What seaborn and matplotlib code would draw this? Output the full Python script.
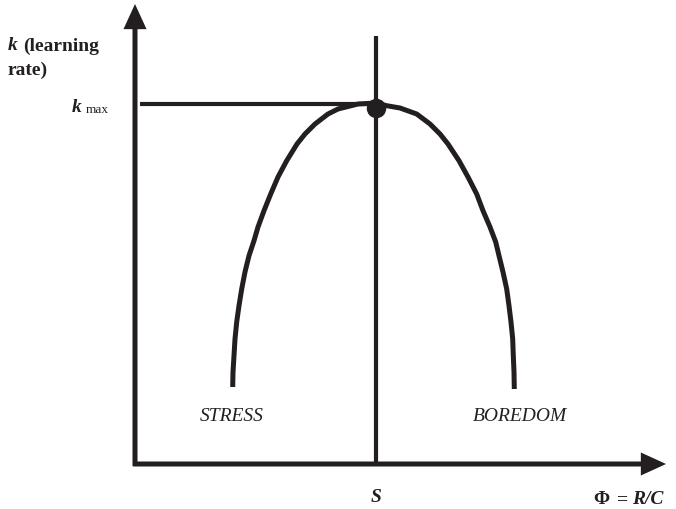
import numpy as np
import pandas as pd
import matplotlib
matplotlib.use("Agg")
import matplotlib.pyplot as plt
import seaborn as sns

# --- data (schematic) ---
phi_curve = [0.977, 0.98, 0.99, 1.00, 1.017, 1.04, 1.067, 1.10, 1.14, 1.19, 1.23, 1.29, 1.357,
             1.43, 1.517, 1.62, 1.70, 1.80, 1.93, 2.03, 2.23, 2.41,
             2.517, 2.65, 2.817, 2.95, 3.05, 3.13, 3.24, 3.33, 3.417, 3.48, 3.55, 3.607,
             3.64, 3.68, 3.717, 3.74, 3.76, 3.777, 3.783, 3.79, 3.793]
k_curve = [0.77, 0.92, 1.083, 1.25, 1.42, 1.583, 1.75, 1.92, 2.083, 2.233, 2.37, 2.533, 2.70,
           2.87, 3.033, 3.20, 3.30, 3.40, 3.50, 3.55, 3.60, 3.61,
           3.583, 3.56, 3.50, 3.40, 3.30, 3.20, 3.033, 2.87, 2.70, 2.533, 2.37, 2.22,
           2.083, 1.92, 1.75, 1.583, 1.42, 1.25, 1.083, 0.92, 0.75]
S_value = 2.41
k_max = 3.605
labels_regions = ["STRESS", "BOREDOM"]
region_x = [0.97, 3.85]
region_y = 0.44

df = pd.DataFrame({"phi": phi_curve, "k": k_curve})

sns.set_theme(style="white")
plt.rcParams["font.family"] = ["Liberation Serif", "DejaVu Serif"]

INK = "#231f20"

fig = plt.figure(figsize=(6.76, 5.10), dpi=100)
ax = fig.add_axes([0, 0, 1, 1])
ax.set_xlim(-1.35, 5.41)
ax.set_ylim(-0.45, 4.65)
ax.axis("off")

# axes arrows
arrow_kw = dict(arrowstyle="-|>,head_length=12,head_width=5.5", lw=3.6, color=INK,
                shrinkA=0, shrinkB=0, mutation_scale=1, joinstyle="miter", capstyle="butt")
ax.annotate("", xy=(0, 4.60), xytext=(0, -0.02), arrowprops=arrow_kw)
ax.annotate("", xy=(5.31, 0), xytext=(-0.02, 0), arrowprops=arrow_kw)

# S vertical line and kmax horizontal line
ax.plot([S_value, S_value], [0, 4.28], color=INK, lw=3.0, solid_capstyle="butt")
ax.plot([0.05, S_value], [k_max, k_max], color=INK, lw=3.0, solid_capstyle="butt")

# curve
sns.lineplot(data=df, x="phi", y="k", sort=False, ax=ax, color=INK, lw=3.6, estimator=None,
             solid_joinstyle="round", solid_capstyle="butt")
ax.plot([S_value], [3.565], "o", color=INK, markersize=13)

# texts
fs = 14
ax.text(-1.27, 4.19, "k", fontsize=fs, fontweight="bold", style="italic", va="center", ha="left", color=INK)
ax.text(-1.12, 4.19, "(learning", fontsize=fs, fontweight="bold", va="center", ha="left", color=INK)
ax.text(-1.27, 3.95, "rate)", fontsize=fs, fontweight="bold", va="center", ha="left", color=INK)

ax.text(-0.63, 3.53, "k", fontsize=fs, fontweight="bold", style="italic", va="baseline", ha="left", color=INK)
ax.text(-0.495, 3.52, "max", fontsize=9.5, va="baseline", ha="left", color=INK)

ax.text(S_value, -0.37, "S", fontsize=fs, fontweight="bold", style="italic", va="baseline", ha="center", color=INK)

ax.text(4.58, -0.39, "\u03a6", fontsize=fs, fontweight="bold", va="baseline", ha="left", color=INK)
ax.text(4.82, -0.39, "=", fontsize=fs, fontweight="bold", va="baseline", ha="left", color=INK)
ax.text(4.97, -0.39, "R/C", fontsize=fs, fontweight="bold", style="italic", va="baseline", ha="left", color=INK)

for lab, x in zip(labels_regions, region_x):
    ax.text(x, region_y, lab, fontsize=fs, style="italic", va="baseline", ha="center", color=INK)

fig.savefig("out.png", dpi=100, facecolor="white")
